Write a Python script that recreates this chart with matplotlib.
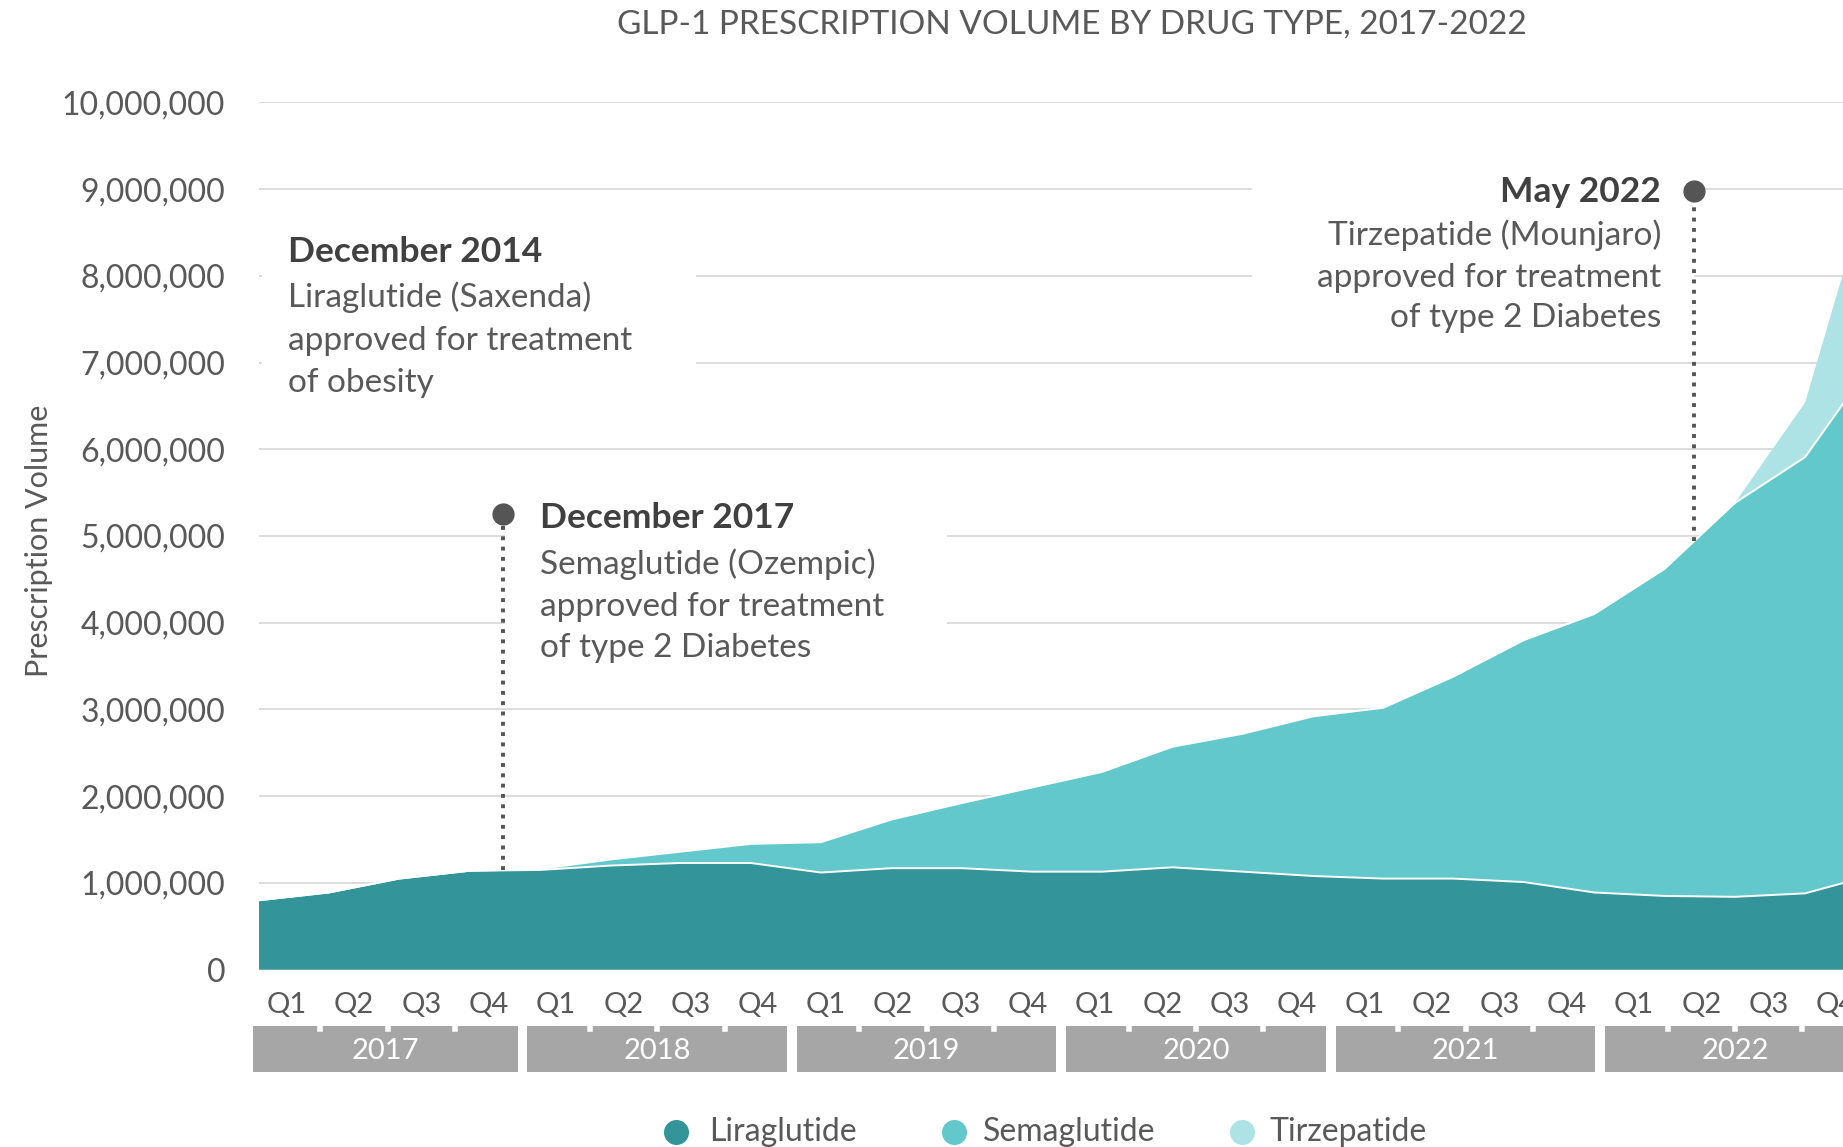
import numpy as np
import matplotlib
matplotlib.use("Agg")
import matplotlib.pyplot as plt
from matplotlib.patches import Rectangle
from matplotlib.lines import Line2D
from matplotlib.ticker import FuncFormatter

plt.rcParams['font.family'] = ['Lato', 'DejaVu Sans']

years = ["2017", "2018", "2019", "2020", "2021", "2022"]
quarters = ["Q1", "Q2", "Q3", "Q4"]

# quarterly prescription volume, Q1 2017 .. Q4 2022
liraglutide = [800000, 890000, 1050000, 1140000, 1150000, 1200000, 1230000, 1230000,
               1120000, 1170000, 1170000, 1130000, 1130000, 1180000, 1130000, 1080000,
               1050000, 1050000, 1010000, 890000, 850000, 840000, 880000, 1100000]
semaglutide = [0, 0, 0, 0, 10000, 70000, 130000, 220000,
               350000, 560000, 750000, 970000, 1150000, 1390000, 1590000, 1840000,
               1970000, 2330000, 2790000, 3210000, 3770000, 4540000, 5030000, 5950000]
tirzepatide = [0, 0, 0, 0, 0, 0, 0, 0,
               0, 0, 0, 0, 0, 0, 0, 0,
               0, 0, 0, 0, 0, 0, 630000, 2250000]

events = [
    ("December 2014", ["Liraglutide (Saxenda)", "approved for treatment", "of obesity"]),
    ("December 2017", ["Semaglutide (Ozempic)", "approved for treatment", "of type 2 Diabetes"]),
    ("May 2022", ["Tirzepatide (Mounjaro)", "approved for treatment", "of type 2 Diabetes"]),
]

C_LIRA = "#339499"
C_SEMA = "#62c8cb"
C_TIRZ = "#ade3e4"
GRID = "#d9d9d9"
TXT = "#595959"
DARK = "#404040"
PIN = "#555555"

fig = plt.figure(figsize=(18.43, 11.47), dpi=100)
ax = fig.add_axes([0.1403, 0.1546, 0.8773, 0.7562])

x = np.arange(len(liraglutide))
lira = np.array(liraglutide)
sema_top = lira + np.array(semaglutide)
total = sema_top + np.array(tirzepatide)

ax.stackplot(x, liraglutide, semaglutide, tirzepatide,
             colors=[C_LIRA, C_SEMA, C_TIRZ], linewidth=0, zorder=2)
ax.plot(x, lira, color="white", lw=1.4, zorder=3)
ax.plot(x, sema_top, color="white", lw=1.4, zorder=3)

ax.set_xlim(0, 23)
ax.set_ylim(0, 10_000_000)
ax.set_yticks(range(0, 10_000_001, 1_000_000))
ax.yaxis.set_major_formatter(FuncFormatter(lambda v, p: f"{v:,.0f}"))
ax.set_xticks([])
ax.tick_params(axis="y", length=0, pad=24, labelsize=23, labelcolor=TXT)
ax.yaxis.grid(True, color=GRID, lw=1.3)
ax.set_axisbelow(True)
for s in ax.spines.values():
    s.set_visible(False)

# white panels behind the annotation text (break the gridlines)
for x0, y0, w, h in [(0.05, 6.55e6, 6.17, 1.9e6),
                     (3.5, 3.45e6, 6.3, 2.05e6),
                     (14.13, 7.24e6, 6.29, 1.96e6)]:
    ax.add_patch(Rectangle((x0, y0), w, h, facecolor="white", edgecolor="none", zorder=1))

# event pins
for px, py in [(3.48, 5.25e6), (20.42, 8.98e6)]:
    base = np.interp(px, x, total)
    ax.plot([px, px], [base, py - 0.12e6], ls=":", lw=2.8, color=PIN, zorder=4)
    ax.plot(px, py, "o", ms=15, color=PIN, zorder=5)

# annotation text
layouts = [(0.42, [8.27e6, 7.75e6, 7.25e6, 6.76e6], "left"),
           (4.0, [5.21e6, 4.67e6, 4.18e6, 3.71e6], "left"),
           (19.95, [8.97e6, 8.47e6, 7.98e6, 7.51e6], "right")]
for (head, lines), (tx, ys, ha) in zip(events, layouts):
    ax.text(tx, ys[0], head, ha=ha, va="center", fontsize=25.5, fontweight="bold",
            color=DARK, zorder=6)
    for line, ty in zip(lines, ys[1:]):
        ax.text(tx, ty, line, ha=ha, va="center", fontsize=24, color=TXT, zorder=6)

# two-level category axis: quarters above year boxes
trans = ax.get_xaxis_transform()
start = -0.08
qw = 23 / 24
for k, yr in enumerate(years):
    for j, q in enumerate(quarters):
        ax.text(start + (4 * k + j + 0.5) * qw, -0.041, q, transform=trans,
                ha="center", va="center", fontsize=21, color=TXT, clip_on=False)
    x0 = start + 4 * k * qw + (0.0 if k == 0 else 0.07)
    x1 = start + 4 * (k + 1) * qw - 0.07
    ax.add_patch(Rectangle((x0, -0.118), x1 - x0, 0.053, transform=trans,
                           facecolor="#a6a6a6", edgecolor="none", clip_on=False))
    for j in range(1, 4):
        xn = start + (4 * k + j) * qw
        ax.add_line(Line2D([xn, xn], [-0.0655, -0.0685], transform=trans,
                           color="white", lw=4, clip_on=False))
    ax.text((x0 + x1) / 2, -0.0935, yr, transform=trans, ha="center", va="center",
            fontsize=21, color="white", clip_on=False)

fig.text(39 / 1843, 0.5286, "Prescription Volume", rotation=90, ha="center",
         va="center", fontsize=22, color=TXT)
fig.text(1072 / 1843, 0.979, "GLP-1 PRESCRIPTION VOLUME BY DRUG TYPE, 2017-2022",
         ha="center", va="center", fontsize=24, color=TXT)

# legend along the bottom
for cx, tx, name, col in [(676, 709, "Liraglutide", C_LIRA),
                          (954, 983, "Semaglutide", C_SEMA),
                          (1242, 1269, "Tirzepatide", C_TIRZ)]:
    fig.add_artist(Line2D([cx / 1843], [0.013], marker="o", ms=17, color=col,
                          lw=0, transform=fig.transFigure))
    fig.text(tx / 1843, 0.013, name, ha="left", va="center", fontsize=23, color=TXT)

fig.savefig("out.png", dpi=100)
